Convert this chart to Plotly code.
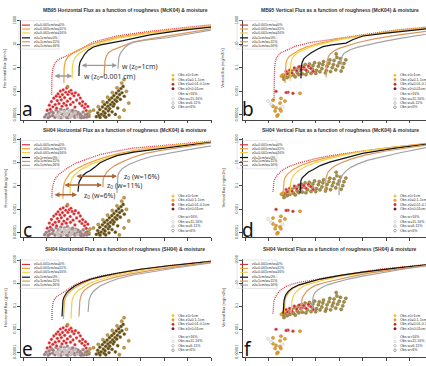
import plotly.graph_objects as go

W, H = 426, 366
FONT = "Liberation Sans, Arial, sans-serif"

# ---------------- data ----------------
CURVE_NAMES = ["z0=0.001cm/w=0%", "z0=0.001cm/w=11%", "z0=0.001cm/w=16%",
               "z0=1cm/w=0%", "z0=1cm/w=11%", "z0=1cm/w=16%"]
CURVE_COLORS = ["#dc2f3c", "#f0a23a", "#f3d04c", "#111111", "#d9975f", "#a3a3a3"]

YTICKS = [1e3, 1e1, 1e-1, 1e-3, 1e-5]
YTICK_TEXT = ["1000", "10", "0.1", "0.001", "0.00001"]

# friction velocity (u*) and log10(flux) of the model curves, per panel
a_u = [[0.222, 0.223, 0.228, 0.236, 0.250, 0.270, 0.290, 0.330, 0.400, 0.500, 0.640, 0.780, 0.900],
       [0.274, 0.275, 0.280, 0.290, 0.310, 0.350, 0.400, 0.500, 0.640, 0.780, 0.900],
       [0.309, 0.310, 0.315, 0.325, 0.345, 0.380, 0.430, 0.500, 0.640, 0.780, 0.900],
       [0.338, 0.339, 0.343, 0.351, 0.362, 0.378, 0.398, 0.430, 0.470, 0.526, 0.640, 0.780, 0.900],
       [0.445, 0.446, 0.449, 0.455, 0.465, 0.480, 0.500, 0.530, 0.570, 0.640, 0.710, 0.800, 0.900],
       [0.504, 0.505, 0.508, 0.515, 0.525, 0.534, 0.550, 0.568, 0.620, 0.713, 0.800, 0.900]]
a_log = [[-3.3, -1.6, -1.0, -0.6, -0.3, -0.1, 0.05, 0.4, 1.2, 1.7, 2.1, 2.4, 2.65],
         [-2.3, -1.0, -0.45, -0.1, 0.25, 0.65, 1.05, 1.6, 2.0, 2.3, 2.55],
         [-1.9, -0.9, -0.4, -0.05, 0.3, 0.7, 1.1, 1.5, 1.95, 2.25, 2.5],
         [-1.7, -0.9, -0.5, -0.2, 0.15, 0.5, 0.75, 0.95, 1.1, 1.3, 1.8, 2.2, 2.45],
         [-1.7, -0.8, -0.4, 0.0, 0.3, 0.5, 0.67, 0.9, 1.2, 1.45, 1.67, 1.95, 2.3],
         [-1.08, -0.5, -0.1, 0.25, 0.55, 0.75, 0.97, 1.15, 1.35, 1.55, 1.85, 2.2]]

b_u = [[0.223, 0.224, 0.226, 0.229, 0.235, 0.250, 0.280, 0.317, 0.380, 0.462, 0.600, 0.740, 0.870],
       [0.270, 0.271, 0.274, 0.280, 0.290, 0.304, 0.330, 0.360, 0.420, 0.500, 0.600, 0.740, 0.870],
       [0.291, 0.292, 0.295, 0.300, 0.310, 0.325, 0.350, 0.380, 0.440, 0.520, 0.620, 0.740, 0.870],
       [0.338, 0.339, 0.343, 0.350, 0.360, 0.380, 0.410, 0.432, 0.470, 0.530, 0.560, 0.602, 0.700, 0.870],
       [0.445, 0.446, 0.450, 0.455, 0.462, 0.480, 0.500, 0.530, 0.580, 0.650, 0.740, 0.870],
       [0.509, 0.510, 0.514, 0.520, 0.530, 0.550, 0.580, 0.620, 0.680, 0.760, 0.870]]
b_log = [[-3.75, -2.0, -1.0, -0.5, -0.1, 0.25, 0.55, 0.85, 1.15, 1.4, 1.8, 2.2, 2.45],
         [-2.3, -1.2, -0.67, -0.25, 0.0, 0.17, 0.5, 0.75, 1.1, 1.45, 1.75, 2.15, 2.4],
         [-2.1, -1.1, -0.6, -0.25, 0.05, 0.3, 0.55, 0.8, 1.1, 1.45, 1.75, 2.1, 2.35],
         [-1.9, -1.0, -0.55, -0.25, -0.05, 0.25, 0.6, 0.8, 0.95, 1.1, 1.4, 1.7, 1.95, 2.3],
         [-1.8, -0.9, -0.4, -0.05, 0.17, 0.45, 0.65, 0.85, 1.15, 1.45, 1.75, 2.1],
         [-0.8, -0.3, 0.0, 0.2, 0.33, 0.55, 0.75, 0.95, 1.2, 1.5, 1.85]]

c_u = [[0.223, 0.224, 0.228, 0.236, 0.250, 0.266, 0.290, 0.330, 0.380, 0.428, 0.500, 0.568, 0.713, 0.900],
       [0.270, 0.271, 0.275, 0.280, 0.287, 0.300, 0.330, 0.370, 0.430, 0.500, 0.600, 0.720, 0.900],
       [0.300, 0.301, 0.305, 0.310, 0.318, 0.330, 0.350, 0.390, 0.440, 0.500, 0.600, 0.720, 0.900],
       [0.334, 0.335, 0.338, 0.343, 0.355, 0.370, 0.385, 0.405, 0.428, 0.460, 0.500, 0.570, 0.640, 0.760, 0.900],
       [0.440, 0.441, 0.445, 0.450, 0.457, 0.470, 0.490, 0.520, 0.560, 0.620, 0.700, 0.800, 0.900],
       [0.500, 0.501, 0.504, 0.510, 0.520, 0.535, 0.550, 0.568, 0.600, 0.650, 0.713, 0.800, 0.900]]
c_log = [[-2.0, -1.3, -0.9, -0.4, -0.05, 0.2, 0.55, 1.0, 1.35, 1.7, 2.0, 2.25, 2.5, 2.85],
         [-2.1, -1.3, -0.8, -0.5, -0.3, 0.1, 0.5, 0.9, 1.35, 1.75, 2.15, 2.45, 2.8],
         [-1.75, -1.0, -0.55, -0.3, -0.1, 0.15, 0.45, 0.85, 1.25, 1.65, 2.1, 2.45, 2.8],
         [-1.5, -1.0, -0.7, -0.5, -0.1, 0.15, 0.3, 0.6, 1.0, 1.3, 1.6, 1.9, 2.1, 2.4, 2.75],
         [-1.1, -0.5, -0.2, 0.0, 0.2, 0.45, 0.75, 1.05, 1.4, 1.8, 2.1, 2.4, 2.7],
         [-1.6, -0.7, -0.1, 0.2, 0.45, 0.65, 0.85, 1.0, 1.25, 1.55, 1.8, 2.1, 2.45]]

d_u = [[0.219, 0.220, 0.223, 0.228, 0.240, 0.262, 0.290, 0.334, 0.390, 0.462, 0.530, 0.602, 0.743, 0.870],
       [0.262, 0.263, 0.266, 0.270, 0.280, 0.300, 0.330, 0.370, 0.430, 0.500, 0.600, 0.740, 0.870],
       [0.291, 0.292, 0.295, 0.300, 0.310, 0.330, 0.360, 0.400, 0.450, 0.520, 0.610, 0.740, 0.870],
       [0.334, 0.335, 0.338, 0.343, 0.355, 0.370, 0.389, 0.420, 0.460, 0.520, 0.600, 0.740, 0.870],
       [0.440, 0.441, 0.444, 0.448, 0.453, 0.465, 0.480, 0.510, 0.550, 0.610, 0.700, 0.870],
       [0.500, 0.501, 0.505, 0.510, 0.517, 0.530, 0.550, 0.580, 0.620, 0.680, 0.760, 0.870]]
d_log = [[-1.5, -0.9, -0.6, -0.35, 0.0, 0.4, 0.7, 1.0, 1.3, 1.6, 1.8, 2.0, 2.35, 2.65],
         [-1.7, -1.0, -0.6, -0.3, 0.0, 0.35, 0.7, 1.0, 1.35, 1.65, 2.0, 2.35, 2.62],
         [-1.7, -1.0, -0.6, -0.3, 0.0, 0.35, 0.7, 1.0, 1.3, 1.65, 2.0, 2.33, 2.6],
         [-1.6, -0.9, -0.55, -0.3, -0.1, 0.2, 0.4, 0.75, 1.05, 1.4, 1.8, 2.25, 2.58],
         [-1.5, -0.8, -0.4, -0.1, 0.17, 0.45, 0.7, 1.0, 1.3, 1.65, 2.0, 2.5],
         [-1.8, -1.0, -0.5, -0.2, 0.0, 0.3, 0.6, 0.9, 1.2, 1.5, 1.85, 2.3]]

e_u = [[0.223, 0.224, 0.228, 0.235, 0.245, 0.257, 0.275, 0.300, 0.325, 0.355, 0.390, 0.428, 0.500, 0.568, 0.713, 0.900],
       [0.272, 0.273, 0.276, 0.280, 0.290, 0.305, 0.325, 0.355, 0.390, 0.440, 0.500, 0.600, 0.720, 0.900],
       [0.304, 0.305, 0.308, 0.313, 0.320, 0.335, 0.355, 0.380, 0.420, 0.470, 0.540, 0.640, 0.760, 0.900],
       [0.266, 0.267, 0.270, 0.275, 0.285, 0.300, 0.320, 0.350, 0.390, 0.440, 0.500, 0.600, 0.720, 0.900],
       [0.338, 0.339, 0.342, 0.346, 0.351, 0.360, 0.375, 0.400, 0.440, 0.490, 0.560, 0.660, 0.780, 0.900],
       [0.377, 0.378, 0.381, 0.385, 0.390, 0.400, 0.415, 0.428, 0.460, 0.500, 0.568, 0.650, 0.760, 0.900]]
e_log = [[-2.2, -1.3, -0.7, -0.35, -0.15, 0.0, 0.3, 0.6, 0.9, 1.15, 1.4, 1.6, 1.85, 2.1, 2.5, 2.9],
         [-2.1, -1.2, -0.6, -0.3, 0.05, 0.35, 0.65, 1.0, 1.3, 1.55, 1.8, 2.2, 2.5, 2.88],
         [-2.1, -1.2, -0.6, -0.25, 0.05, 0.35, 0.65, 0.95, 1.25, 1.55, 1.85, 2.2, 2.5, 2.85],
         [-1.9, -1.1, -0.5, -0.2, 0.15, 0.45, 0.75, 1.05, 1.35, 1.6, 1.85, 2.2, 2.5, 2.88],
         [-1.9, -1.0, -0.5, -0.2, 0.1, 0.35, 0.6, 0.9, 1.2, 1.5, 1.8, 2.15, 2.5, 2.82],
         [-1.5, -0.9, -0.5, -0.25, 0.0, 0.3, 0.55, 0.75, 1.05, 1.35, 1.7, 2.0, 2.35, 2.75]]

f_u = [[0.219, 0.220, 0.223, 0.228, 0.240, 0.255, 0.274, 0.300, 0.340, 0.389, 0.450, 0.530, 0.674, 0.870],
       [0.266, 0.267, 0.270, 0.274, 0.280, 0.290, 0.305, 0.335, 0.375, 0.425, 0.500, 0.600, 0.740, 0.870],
       [0.296, 0.297, 0.300, 0.305, 0.310, 0.320, 0.335, 0.360, 0.400, 0.450, 0.520, 0.620, 0.740, 0.870],
       [0.262, 0.263, 0.266, 0.270, 0.274, 0.285, 0.300, 0.330, 0.370, 0.420, 0.500, 0.600, 0.740, 0.870],
       [0.338, 0.339, 0.342, 0.347, 0.353, 0.363, 0.378, 0.400, 0.440, 0.490, 0.560, 0.640, 0.750, 0.870],
       [0.385, 0.386, 0.389, 0.393, 0.398, 0.410, 0.425, 0.450, 0.490, 0.540, 0.600, 0.680, 0.770, 0.870]]
f_log = [[-1.65, -1.0, -0.6, -0.25, 0.15, 0.45, 0.7, 0.9, 1.1, 1.25, 1.5, 1.75, 2.2, 2.6],
         [-1.65, -1.0, -0.5, -0.2, 0.0, 0.3, 0.55, 0.85, 1.1, 1.35, 1.65, 1.95, 2.3, 2.57],
         [-1.5, -0.9, -0.45, -0.15, 0.05, 0.3, 0.55, 0.85, 1.1, 1.35, 1.65, 1.95, 2.28, 2.55],
         [-1.65, -1.0, -0.5, -0.2, 0.0, 0.3, 0.55, 0.85, 1.1, 1.35, 1.65, 1.95, 2.3, 2.58],
         [-1.5, -0.9, -0.45, -0.15, 0.05, 0.3, 0.55, 0.8, 1.05, 1.3, 1.6, 1.9, 2.22, 2.52],
         [-1.3, -0.7, -0.3, 0.0, 0.17, 0.4, 0.6, 0.85, 1.1, 1.35, 1.6, 1.9, 2.2, 2.48]]

# observations: horizontal flux (panels a, c, e)
h_red_u = [0.203, 0.212, 0.216, 0.221, 0.227, 0.231, 0.237, 0.241, 0.246, 0.249, 0.253, 0.257, 0.259, 0.263, 0.268,
           0.271, 0.274, 0.277, 0.282, 0.286, 0.289, 0.291, 0.297, 0.301, 0.304, 0.309, 0.313, 0.317, 0.323, 0.328,
           0.336, 0.341, 0.344, 0.351, 0.354, 0.362, 0.366, 0.369, 0.376, 0.243, 0.266, 0.284, 0.302, 0.321]
h_red_log = [-4.62, -4.18, -4.53, -3.87, -4.31, -3.58, -4.12, -3.41, -3.79, -3.22, -4.04, -3.47, -2.98, -3.72, -3.28,
             -2.87, -4.02, -3.53, -3.08, -2.71, -3.84, -3.27, -3.03, -3.62, -2.91, -3.19, -3.93, -3.38, -3.12, -3.74,
             -3.31, -4.03, -3.57, -4.22, -3.88, -4.41, -4.08, -4.63, -4.28, -4.43, -4.27, -4.19, -4.12, -4.34]
h_mauve_u = [0.192, 0.199, 0.207, 0.211, 0.214, 0.222, 0.226, 0.229, 0.236, 0.241, 0.244, 0.251, 0.254, 0.261,
             0.264, 0.271, 0.276, 0.279, 0.286, 0.289, 0.296, 0.302, 0.304, 0.311, 0.314, 0.321, 0.324, 0.331,
             0.334, 0.342, 0.344, 0.351, 0.356, 0.359, 0.366, 0.371, 0.374, 0.381, 0.262, 0.292, 0.318, 0.348]
h_mauve_log = [-5.18, -4.98, -5.24, -4.87, -5.14, -4.72, -5.06, -4.83, -5.21, -4.58, -5.02, -4.77, -5.19, -4.52,
               -4.91, -5.12, -4.61, -4.86, -5.22, -4.48, -4.96, -4.69, -5.16, -4.62, -4.88, -5.21, -4.71, -5.02,
               -4.79, -5.19, -4.94, -5.12, -4.76, -5.22, -4.99, -5.2, -4.91, -5.14, -5.25, -5.24, -5.06, -5.25]
h_light_u = [0.242, 0.258, 0.271, 0.282, 0.289, 0.301, 0.309, 0.322, 0.331, 0.251, 0.296, 0.276]
h_light_log = [-5.02, -4.81, -5.18, -4.98, -4.83, -5.21, -4.97, -4.82, -5.19, -5.23, -4.66, -4.74]
h_olive_u = [0.412, 0.418, 0.423, 0.427, 0.433, 0.428, 0.438, 0.442, 0.445, 0.447, 0.452, 0.449, 0.458, 0.461,
             0.463, 0.468, 0.472, 0.469, 0.478, 0.481, 0.484, 0.487, 0.492, 0.488, 0.497, 0.502, 0.499, 0.507,
             0.511, 0.514, 0.517, 0.521, 0.526, 0.531, 0.466, 0.479, 0.503, 0.452, 0.493]
h_olive_log = [-5.15, -4.82, -5.05, -4.55, -4.95, -5.22, -4.33, -4.72, -5.08, -4.12, -4.48, -4.86, -3.94, -4.27,
               -4.66, -3.73, -4.12, -4.47, -3.55, -3.93, -4.26, -3.36, -3.72, -4.08, -3.15, -3.52, -3.85, -2.95,
               -3.28, -3.68, -2.76, -3.12, -2.58, -3.42, -5.02, -4.74, -4.42, -5.2, -4.96]
h_tan_u = [0.40, 0.42, 0.44, 0.46, 0.48, 0.50, 0.52, 0.53, 0.54, 0.55, 0.53, 0.51, 0.29, 0.38, 0.385]
h_tan_log = [-4.6, -4.3, -3.9, -3.5, -3.1, -2.7, -2.3, -2.0, -3.0, -4.0, -4.6, -5.2, -2.6, -5.0, -4.7]

# observations: vertical flux (panels b, d, f)
v_olive_u = [0.262, 0.266, 0.272, 0.279, 0.286, 0.291, 0.298, 0.306, 0.311, 0.314, 0.322, 0.326, 0.329, 0.337,
             0.341, 0.344, 0.352, 0.356, 0.359, 0.366, 0.372, 0.374, 0.381, 0.387, 0.389, 0.396, 0.401, 0.404,
             0.412, 0.416, 0.419, 0.427, 0.431, 0.434, 0.442, 0.446, 0.449, 0.457, 0.461, 0.464, 0.471, 0.476,
             0.479, 0.486, 0.491, 0.494, 0.501, 0.506, 0.509, 0.516, 0.521, 0.529, 0.488]
v_olive_log = [-1.73, -1.98, -1.62, -1.83, -1.47, -1.72, -1.28, -1.61, -1.13, -1.77, -1.42, -1.02, -1.58, -1.23,
               -0.87, -1.52, -1.08, -0.73, -1.58, -1.32, -0.93, -0.68, -1.47, -1.13, -0.82, -0.57, -1.48, -1.22,
               -0.88, -0.62, -1.33, -1.07, -0.73, -0.47, -1.43, -1.22, -0.88, -0.62, -0.33, -1.32, -0.98, -0.72,
               -0.38, -1.17, -0.12, -0.83, -0.57, -0.23, -1.28, -0.97, -0.63, -0.32, 0.18]
v_red_u = [0.28, 0.29, 0.30, 0.31, 0.32, 0.33, 0.34, 0.35, 0.36, 0.37, 0.38, 0.39, 0.275,
           0.232, 0.283, 0.304, 0.275]
v_red_log = [-1.5, -1.2, -1.45, -1.0, -1.25, -0.9, -1.15, -0.95, -1.2, -0.85, -1.05, -1.3, -1.3,
             -3.0, -3.08, -3.17, -3.1]
v_orange_u = [0.219, 0.253, 0.27, 0.249, 0.219, 0.232, 0.249, 0.228, 0.24, 0.253, 0.236, 0.334, 0.262, 0.255]
v_orange_log = [-3.75, -3.6, -3.83, -4.0, -4.25, -4.4, -4.5, -4.67, -5.0, -4.67, -5.1, -3.17, -1.6, -1.7]
v_light_u = [0.198, 0.21, 0.26]
v_light_log = [-3.83, -4.1, -4.3]

OBS_Z0_NAMES = ["Obs z0>1cm", "Obs z0=0.1-1cm", "Obs z0=0.01-0.1cm", "Obs z0<0.01cm"]
OBS_Z0_COLORS = ["#f2c12e", "#e89a2c", "#d42626", "#7b1a1a"]
OBS_W_NAMES = ["Obs w>16%", "Obs w=11-16%", "Obs w=6-11%", "Obs w<6%"]
OBS_W_COLORS = ["#e4e4e4", "#cccccc", "#aaaaaa", "#808080"]

H_GROUPS = [(h_mauve_u, h_mauve_log, "#9b7d7f", "#bba5a5"),
            (h_light_u, h_light_log, "#c9bfbf", "#e0dada"),
            (h_red_u, h_red_log, "#d7262b", "#f3c9c9"),
            (h_olive_u, h_olive_log, "#5c4c1c", "#a89050"),
            (h_tan_u, h_tan_log, "#c49a45", "#8a6a30")]
V_GROUPS = [(v_olive_u, v_olive_log, "#a8913f", "#6e5c28"),
            (v_red_u, v_red_log, "#cf2b2b", "#f0c0c0"),
            (v_orange_u, v_orange_log, "#e4a032", "#b07820"),
            (v_light_u, v_light_log, "#eeeeee", "#bbbbbb")]

PANELS = [
    ("a", 0, 0, "H", "MB95 Horizontal Flux as a function of roughness (McK04) & moisture", a_u, a_log),
    ("b", 1, 0, "V", "MB95 Vertical Flux as a function of roughness (McK04) & moisture", b_u, b_log),
    ("c", 0, 1, "H", "SH04 Horizontal Flux as a function of roughness (McK04) & moisture", c_u, c_log),
    ("d", 1, 1, "V", "SH04 Vertical Flux as a function of roughness (McK04) & moisture", d_u, d_log),
    ("e", 0, 2, "H", "SH04 Horizontal Flux as a function of roughness (SH04) & moisture", e_u, e_log),
    ("f", 1, 2, "V", "SH04 Vertical Flux as a function of roughness (SH04) & moisture", f_u, f_log),
]
YTITLES = {"H": "Horizontal flux (g/m/s)", "V": "Vertical flux (mg/m2/s)"}

# annotation arrows (u start, u end, log10 flux) and labels
a_arrow_u0 = [0.228, 0.343]
a_arrow_u1 = [0.309, 0.500]
a_arrow_log = [-1.7, -0.8]
a_label_u = [0.513, 0.351]
a_label_log = [-0.85, -1.75]
a_label_text = ["w (z<sub>0</sub>=1cm)", "w (z<sub>0</sub>=0.001 cm)"]
c_arrow_u0 = [0.228, 0.270, 0.321]
c_arrow_u1 = [0.330, 0.436, 0.500]
c_arrow_log = [-1.75, -0.92, -0.17]
c_label_u = [0.351, 0.449, 0.521]
c_label_log = [-1.85, -1.0, -0.17]
c_label_text = ["z<sub>0</sub> (w=6%)", "z<sub>0</sub> (w=11%)", "z<sub>0</sub> (w=16%)"]

# ---------------- layout geometry ----------------
COL_X = [(21, 211), (243, 426)]
ROW_Y = [(14.8, 116.8), (135.8, 236.8), (258.8, 358.8)]
COL_X0 = [0, 213]
ROW_Y0 = [0, 122, 244]
XRANGE = [[0.0915, 0.900], [0.0915, 0.870]]
YRANGE = [-5.4, 3.1]


def P(x, y):
    return x / W, 1 - y / H


fig = go.Figure()
layout = {}
annotations = []
shapes = []


def text(x, y, s, size=4, color="#333333", xanchor="left", angle=0, family=FONT):
    px, py = P(x, y)
    annotations.append(dict(x=px, y=py, xref="paper", yref="paper", text=s, showarrow=False,
                            xanchor=xanchor, yanchor="middle", textangle=angle,
                            font=dict(size=size, color=color, family=family)))


for i, (letter, col, row, kind, title, cu, clog) in enumerate(PANELS):
    n = "" if i == 0 else str(i + 1)
    xa, ya = "x" + n, "y" + n
    x0, x1 = COL_X[col]
    yt, yb = ROW_Y[row]
    layout["xaxis" + n] = dict(domain=[x0 / W, x1 / W], range=XRANGE[col], anchor=ya,
                               showline=True, linecolor="#444", linewidth=0.8, ticks="outside",
                               ticklen=3, tickwidth=0.8, tickcolor="#444", tick0=0.1, dtick=0.1,
                               showticklabels=False, showgrid=False, zeroline=False)
    layout["yaxis" + n] = dict(domain=[1 - yb / H, 1 - yt / H], type="log", range=YRANGE, anchor=xa,
                               tickvals=YTICKS, ticktext=YTICK_TEXT, tickangle=-90,
                               tickfont=dict(size=4, color="#333", family=FONT),
                               ticks="outside", ticklen=3, tickwidth=0.8, tickcolor="#444",
                               showline=True, linecolor="#444", linewidth=0.8,
                               showgrid=False, zeroline=False)

    groups = H_GROUPS if kind == "H" else V_GROUPS
    for gu, gl, fill, edge in groups:
        fig.add_trace(go.Scatter(x=gu, y=[10 ** v for v in gl], mode="markers", xaxis=xa, yaxis=ya,
                                 marker=dict(size=3.2, color=fill, line=dict(color=edge, width=0.4)),
                                 showlegend=False, hoverinfo="skip"))
    for k in range(6):
        fig.add_trace(go.Scatter(x=cu[k], y=[10 ** v for v in clog[k]], mode="lines",
                                 xaxis=xa, yaxis=ya, name=CURVE_NAMES[k],
                                 line=dict(color=CURVE_COLORS[k], width=1.3 if k == 0 else 1.2,
                                           dash="1px,1px" if k == 0 else "solid"),
                                 showlegend=False, hoverinfo="skip"))

    ox, oy = COL_X0[col], ROW_Y0[row]
    # title, y-title, panel letter
    text(ox + (125 if col == 0 else 127), oy + 5, "<b>" + title + "</b>", size=5, xanchor="center")
    text(ox + (5 if col == 0 else 10), oy + 64, YTITLES[kind], size=4, xanchor="center", angle=-90)
    lx = 27 if col == 0 else 35
    ly = 106 if row == 0 else 107
    text(ox + lx, oy + ly, letter, size=19, color="#111", xanchor="center", family="Noto Sans, Open Sans")

    # model-curve legend
    lx0 = 22 if col == 0 else 27
    bx0, by0 = P(ox + lx0 - 3, oy + 16)
    bx1, by1 = P(ox + lx0 + 37, oy + 45)
    shapes.append(dict(type="rect", xref="paper", yref="paper", x0=bx0, y0=by0, x1=bx1, y1=by1,
                       line=dict(color="#c8c8c8", width=0.5)))
    for k, yy in enumerate([20.5, 24.5, 28.5, 33.5, 37.5, 41.5]):
        sx0, sy = P(ox + lx0, oy + yy)
        sx1, _ = P(ox + lx0 + 8, oy + yy)
        shapes.append(dict(type="line", xref="paper", yref="paper", x0=sx0, x1=sx1, y0=sy, y1=sy,
                           line=dict(color=CURVE_COLORS[k], width=1.2)))
        text(ox + lx0 + 10, oy + yy, CURVE_NAMES[k], size=3.6)

    # observation legend
    mx = 173 if col == 0 else 182
    ys = [71.7, 76, 80.7, 85.3, 91, 95.7, 100, 104.3] if row == 0 else \
         [72.7, 77, 81.5, 86, 94.5, 99, 103.5, 108]
    names = OBS_Z0_NAMES + OBS_W_NAMES
    for k, yy in enumerate(ys):
        cx, cy = P(ox + mx, oy + yy)
        rx, ry = 1.3 / W, 1.3 / H
        if k < 4:
            shapes.append(dict(type="circle", xref="paper", yref="paper", x0=cx - rx, x1=cx + rx,
                               y0=cy - ry, y1=cy + ry, fillcolor=OBS_Z0_COLORS[k],
                               line=dict(color=OBS_Z0_COLORS[k], width=0.3)))
        else:
            shapes.append(dict(type="circle", xref="paper", yref="paper", x0=cx - rx, x1=cx + rx,
                               y0=cy - ry, y1=cy + ry, fillcolor="white",
                               line=dict(color=OBS_W_COLORS[k - 4], width=0.7)))
        text(ox + mx + 3, oy + yy, names[k], size=3.6)

# arrows and labels in panels a and c
for u0, u1, lg in zip(a_arrow_u0, a_arrow_u1, a_arrow_log):
    annotations.append(dict(x=u1, y=lg, ax=u0, ay=lg, xref="x", yref="y", axref="x", ayref="y",
                            text="", showarrow=True, arrowhead=2, startarrowhead=2,
                            arrowside="end+start", arrowsize=0.7, arrowwidth=1.4, arrowcolor="#9a9a9a"))
for u, lg, s in zip(a_label_u, a_label_log, a_label_text):
    annotations.append(dict(x=u, y=lg, xref="x", yref="y", text=s, showarrow=False, xanchor="left",
                            font=dict(size=7, color="#333", family="Noto Sans, Open Sans")))
for u0, u1, lg in zip(c_arrow_u0, c_arrow_u1, c_arrow_log):
    annotations.append(dict(x=u1, y=lg, ax=u0, ay=lg, xref="x3", yref="y3", axref="x3", ayref="y3",
                            text="", showarrow=True, arrowhead=2, startarrowhead=2,
                            arrowside="end+start", arrowsize=0.7, arrowwidth=1.4, arrowcolor="#a8653a"))
for u, lg, s in zip(c_label_u, c_label_log, c_label_text):
    annotations.append(dict(x=u, y=lg, xref="x3", yref="y3", text=s, showarrow=False, xanchor="left",
                            font=dict(size=7, color="#333", family="Noto Sans, Open Sans")))

fig.update_layout(width=W, height=H, margin=dict(l=0, r=0, t=0, b=0), paper_bgcolor="white",
                  plot_bgcolor="white", showlegend=False, annotations=annotations, shapes=shapes,
                  **layout)
fig.write_html("out.html")
